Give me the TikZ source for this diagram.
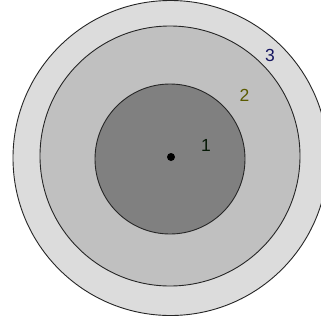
\documentclass[tikz,border=0pt]{standalone}
\usepackage{fontspec}
\setmainfont{Liberation Sans}
\begin{document}
\begin{tikzpicture}[x=1pt,y=-1pt,
  ring/.style={draw=black!85, line width=0.9pt},
  lbl/.style={font=\fontsize{17.5}{17.5}\selectfont, inner sep=0pt}]
\definecolor{outerc}{HTML}{DCDCDC}
\definecolor{midc}{HTML}{C0C0C0}
\definecolor{innc}{HTML}{808080}
\definecolor{onec}{HTML}{051805}
\definecolor{twoc}{HTML}{5A5A00}
\definecolor{threec}{HTML}{151560}
\fill[white] (0,0) rectangle (321,322);
\useasboundingbox (0,0) rectangle (321,322);
\begin{scope}
\clip (0,0) rectangle (321,322);
\coordinate (c) at (170.5,158);
\draw[ring, fill=outerc] (c) circle[radius=157.5];
\draw[ring, fill=midc] (170,156) circle[radius=130];
\draw[ring, fill=innc] (170,159) circle[radius=75];
\fill[black] (171,157) circle[radius=4];
\end{scope}
\node[lbl, text=onec] (l1) at (206,145) {1};
\node[lbl, text=twoc] (l2) at (244.5,95) {2};
\node[lbl, text=threec] (l3) at (270,55) {3};
\end{tikzpicture}
\end{document}
